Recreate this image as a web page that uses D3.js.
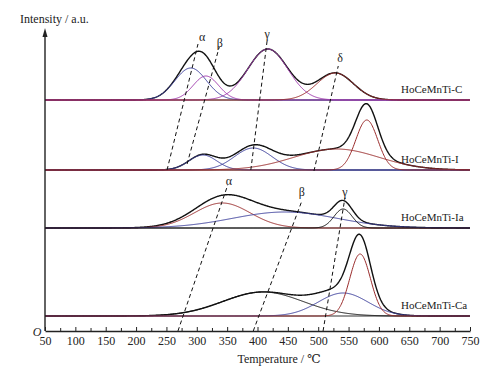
<!DOCTYPE html>
<html>
<head>
<meta charset="utf-8">
<script src="https://cdn.jsdelivr.net/npm/d3@7"></script>
<style>
  body { margin: 0; background: #fff; }
  svg { display: block; }
  svg text { font-family: "Liberation Serif", "DejaVu Serif", Times, serif; }
</style>
</head>
<body>
<svg id="chart" width="492" height="375"></svg>
<script>
// ---- data ----
const samples = ["HoCeMnTi-C", "HoCeMnTi-I", "HoCeMnTi-Ia", "HoCeMnTi-Ca"];
// vertical offset of each trace, a.u.
const sampleOffsets = [231, 161, 103, 15];
// fitted Gaussian components per sample: centre (°C), height (a.u.), sigma (°C)
const peakCentres = [[290, 315, 417, 528], [310, 393, 530, 580], [342, 445, 541], [409, 541, 569]];
const peakHeights = [[32, 24, 51, 27], [15, 22, 21, 50], [25, 16, 19], [24, 23, 62]];
const peakSigmas  = [[26, 21, 33, 30], [23, 31, 70, 18], [46, 86, 15], [66, 41, 17]];

// dashed guide lines: [T0, I0, T1, I1]
const guideLines = [
  [251, 161, 302, 287], [284, 167, 337, 284], [389, 161, 416, 291], [493, 160, 533, 265],
  [269, 0, 351, 146], [393, 0, 473, 130], [508, 0, 544, 133]
];
const guideLabels = ["α", "β", "γ", "δ", "α", "β", "γ"];
const guideLabelPos = [[309, 294], [338, 288], [416, 297], [536, 273], [353, 150], [473, 139], [544, 139]];

const xTicks = d3.range(50, 751, 50);
const xMinorTicks = d3.range(75, 750, 50);

// ---- styles ----
const colours = { black: "#111", red: "#9a2b2b", blue: "#3c3f9c", purple: "#a03aae" };
const componentColours = [
  ["blue", "purple", "purple", "red"],
  ["blue", "blue", "red", "red"],
  ["red", "blue", "black"],
  ["black", "blue", "red"]
];

const svg = d3.select("#chart");
const x = d3.scaleLinear().domain([50, 750]).range([45, 470]);
const y = d3.scaleLinear().domain([0, 303]).range([331, 28]);

const grid = d3.range(50, 750.5, 1);
const gauss = (t, c, h, s) => h * Math.exp(-((t - c) ** 2) / (2 * s * s));

samples.forEach((name, si) => {
  const off = sampleOffsets[si];
  const comps = peakCentres[si].map((c, k) => ({ c, h: peakHeights[si][k], s: peakSigmas[si][k], col: componentColours[si][k] }));
  const line = d3.line().x(d => x(d[0])).y(d => y(off + d[1]));

  // baseline
  svg.append("line")
    .attr("x1", x(50)).attr("x2", x(750))
    .attr("y1", y(off)).attr("y2", y(off))
    .attr("stroke", "#777")
    .attr("stroke-width", 1.6);

  // total envelope
  const total = grid.map(t => [t, d3.sum(comps, p => gauss(t, p.c, p.h, p.s))]);
  svg.append("path")
    .attr("d", line(total))
    .attr("fill", "none")
    .attr("stroke", colours.black)
    .attr("stroke-width", 1.4);

  // components
  comps.forEach(p => {
    const pts = grid.map(t => [t, gauss(t, p.c, p.h, p.s)]);
    svg.append("path")
      .attr("d", line(pts))
      .attr("fill", "none")
      .attr("stroke", colours[p.col])
      .attr("stroke-width", 1);
  });

  svg.append("text")
    .attr("x", 401)
    .attr("y", y(off) - 7)
    .attr("font-size", 11)
    .attr("fill", "#222")
    .text(name);
});

// dashed guides
guideLines.forEach((g, i) => {
  svg.append("line")
    .attr("x1", x(g[0])).attr("y1", y(g[1]))
    .attr("x2", x(g[2])).attr("y2", y(g[3]))
    .attr("stroke", "#111")
    .attr("stroke-width", 1)
    .attr("stroke-dasharray", "4,3");
  svg.append("text")
    .attr("x", x(guideLabelPos[i][0]))
    .attr("y", y(guideLabelPos[i][1]))
    .attr("dy", "0.35em")
    .attr("text-anchor", "middle")
    .attr("font-size", 12)
    .attr("fill", "#222")
    .text(guideLabels[i]);
});

// x axis
const xAxis = svg.append("g")
  .attr("transform", `translate(0,${y(0)})`)
  .call(d3.axisBottom(x).tickValues(xTicks).tickSizeInner(-4).tickSizeOuter(0).tickPadding(5.5));
xAxis.attr("font-family", null);
xAxis.select(".domain").attr("stroke", "#222").attr("stroke-width", 1.4);
xAxis.selectAll(".tick line").attr("stroke", "#222");
xAxis.selectAll("text")
  .attr("font-size", 12)
  .attr("fill", "#222");

svg.append("g")
  .attr("transform", `translate(0,${y(0)})`)
  .call(d3.axisBottom(x).tickValues(xMinorTicks).tickSizeInner(-3).tickSizeOuter(0).tickFormat(""))
  .call(g => g.select(".domain").remove())
  .selectAll(".tick line").attr("stroke", "#222");

// y axis with arrow
svg.append("line")
  .attr("x1", x(50)).attr("x2", x(50))
  .attr("y1", y(0)).attr("y2", y(297))
  .attr("stroke", "#222")
  .attr("stroke-width", 1.4);
svg.append("path")
  .attr("d", `M${x(50)},${y(303)} L${x(50) - 2.5},${y(294)} L${x(50) + 2.5},${y(294)} Z`)
  .attr("fill", "#222");

svg.append("text")
  .attr("x", 37).attr("y", y(0) + 1)
  .attr("dy", "0.35em")
  .attr("text-anchor", "middle")
  .attr("font-size", 12)
  .attr("font-style", "italic")
  .attr("fill", "#222")
  .text("O");

svg.append("text")
  .attr("x", 20).attr("y", 23)
  .attr("font-size", 12)
  .attr("fill", "#222")
  .text("Intensity / a.u.");

svg.append("text")
  .attr("x", 279).attr("y", 363)
  .attr("text-anchor", "middle")
  .attr("font-size", 12)
  .attr("fill", "#222")
  .text("Temperature / ℃");
</script>
</body>
</html>
